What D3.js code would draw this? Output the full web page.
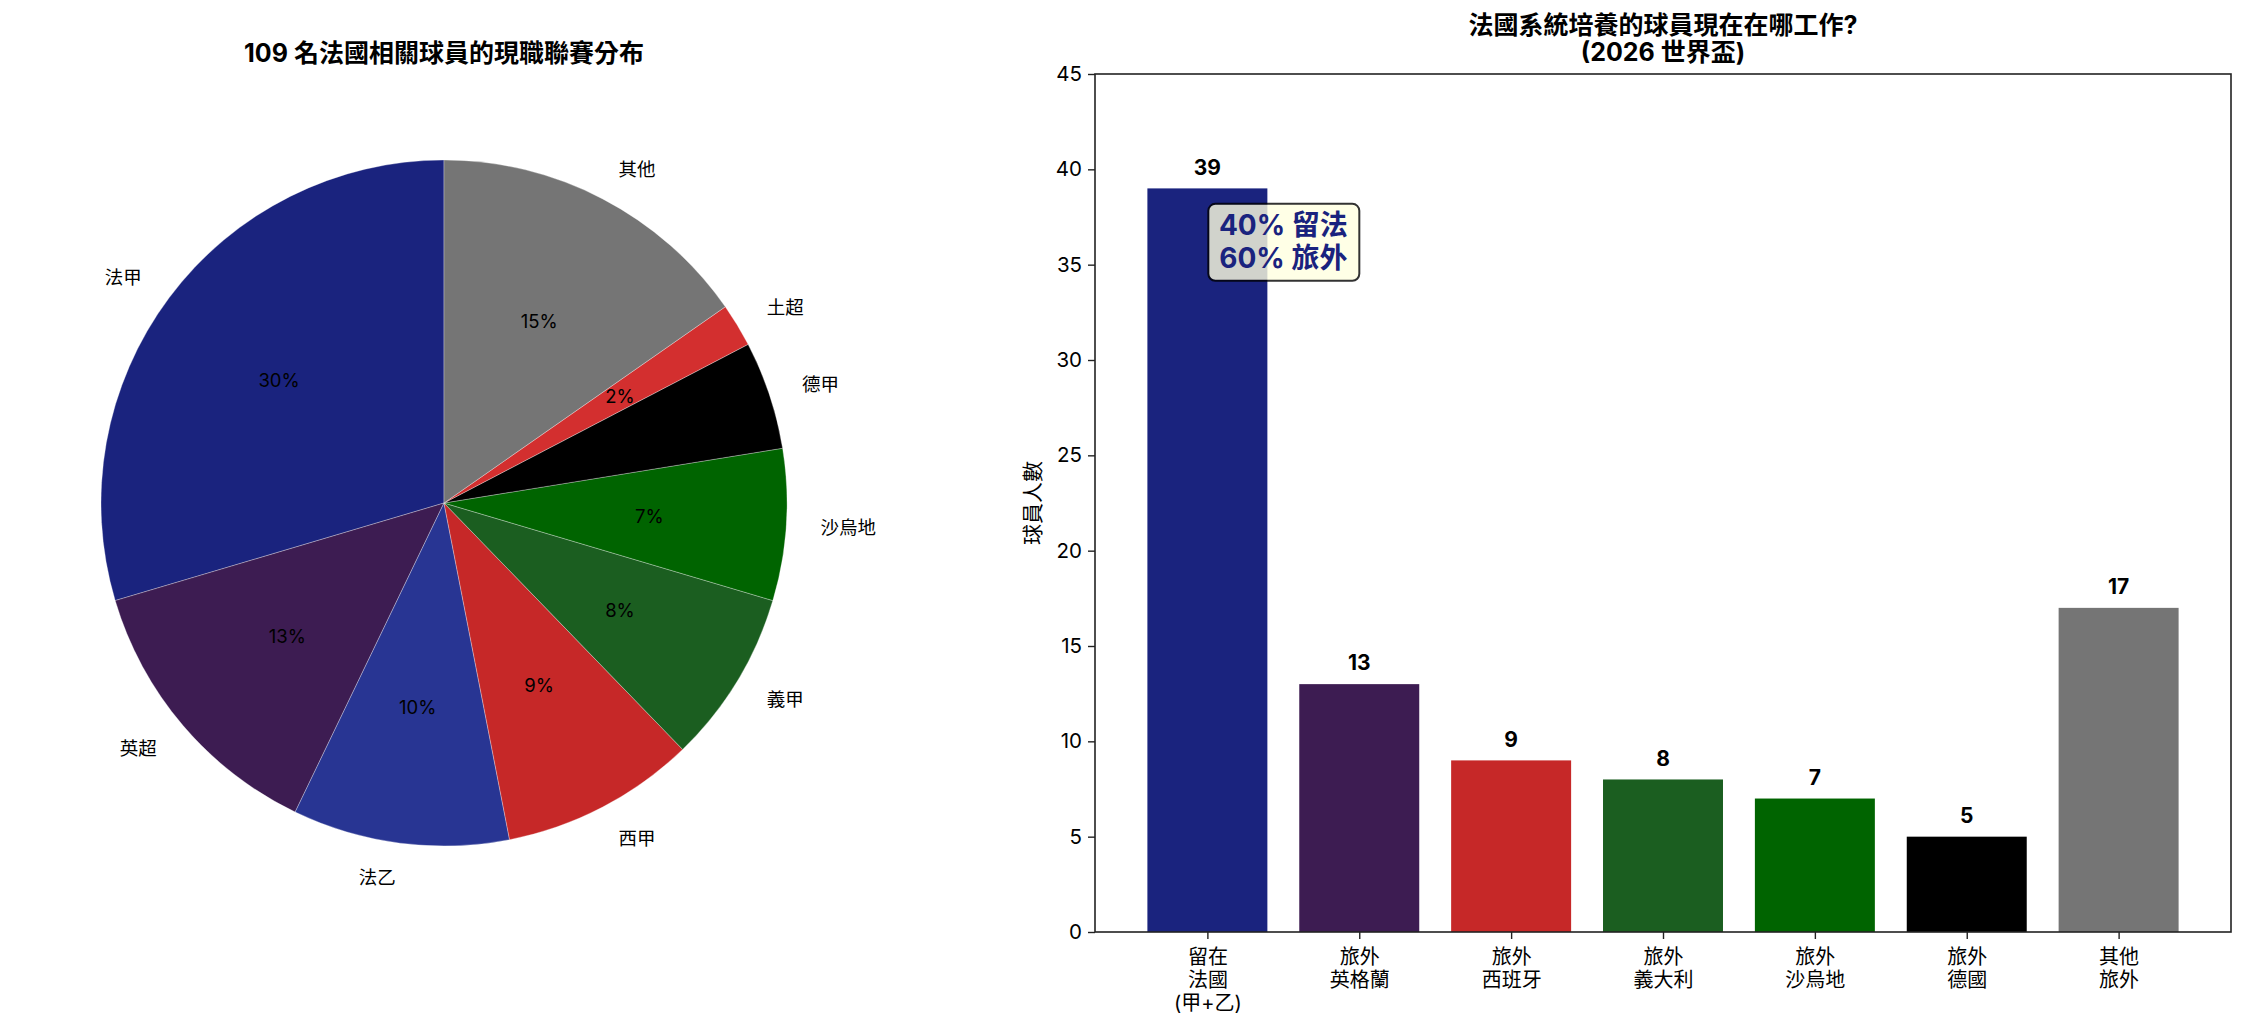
<!DOCTYPE html>
<html>
<head>
<meta charset="utf-8">
<script src="https://cdn.jsdelivr.net/npm/d3@7"></script>
<style>
  body { margin: 0; background: #fff; }
  svg text { font-family: Inter, "Noto Sans CJK TC", sans-serif; fill: #000; }
</style>
</head>
<body>
<svg id="chart" width="2246" height="1029"></svg>
<script>
// league split (pie)
const leagues = ['法甲', '英超', '法乙', '西甲', '義甲', '沙烏地', '德甲', '土超', '其他'];
const leagueCounts = [29, 13, 10, 9, 8, 7, 5, 2, 15];
const leagueColors = ['#1a237e', '#3d1c52', '#283593', '#c62828', '#1b5e20', '#006400', '#000000', '#d32f2f', '#757575'];

// grouped view (bars)
const groups = [['留在', '法國', '(甲+乙)'], ['旅外', '英格蘭'], ['旅外', '西班牙'], ['旅外', '義大利'], ['旅外', '沙烏地'], ['旅外', '德國'], ['其他', '旅外']];
const groupCounts = [39, 13, 9, 8, 7, 5, 17];
const groupColors = ['#1a237e', '#3d1c52', '#c62828', '#1b5e20', '#006400', '#000000', '#757575'];
const yTicks = [0, 5, 10, 15, 20, 25, 30, 35, 40, 45];

const pieTitle = '109 名法國相關球員的現職聯賽分布';
const barTitle = ['法國系統培養的球員現在在哪工作?', '(2026 世界盃)'];

const svg = d3.select('#chart');
const total = d3.sum(leagueCounts);

// ---- pie ----
const cx = 444, cy = 503, R = 343;
const pieG = svg.append('g').attr('transform', `translate(${cx},${cy})`);

// matplotlib style: start at 12 o'clock, go counter clockwise
const slices = d3.pie().sort(null).startAngle(0).endAngle(-2 * Math.PI)(leagueCounts);
const arc = d3.arc().innerRadius(0).outerRadius(R);

pieG.selectAll('path')
  .data(slices)
  .enter()
  .append('path')
  .attr('d', arc)
  .attr('fill', (d, i) => leagueColors[i])
  .attr('stroke', '#fff')
  .attr('stroke-opacity', 0.6)
  .attr('stroke-width', 0.5);

const mid = d => (d.startAngle + d.endAngle) / 2;

pieG.selectAll('.lbl')
  .data(slices)
  .enter()
  .append('text')
  .classed('lbl', true)
  .attr('x', d => Math.sin(mid(d)) * R * 1.1)
  .attr('y', d => -Math.cos(mid(d)) * R * 1.1)
  .attr('text-anchor', d => Math.sin(mid(d)) > 0 ? 'start' : 'end')
  .attr('dominant-baseline', 'central')
  .attr('font-size', 18.5)
  .text((d, i) => leagues[i]);

pieG.selectAll('.pct')
  .data(slices)
  .enter()
  .append('text')
  .classed('pct', true)
  .attr('x', d => Math.sin(mid(d)) * R * 0.6)
  .attr('y', d => -Math.cos(mid(d)) * R * 0.6)
  .attr('text-anchor', 'middle')
  .attr('dominant-baseline', 'central')
  .attr('font-size', 18.5)
  .text(d => Math.round(d.value / total * 100) + '%');

svg.append('text')
  .attr('x', cx)
  .attr('y', 53)
  .attr('text-anchor', 'middle')
  .attr('dominant-baseline', 'central')
  .attr('font-size', 25)
  .attr('font-weight', 'bold')
  .text(pieTitle);

// ---- bars ----
const axL = 1095, axR = 2231, axT = 74, axB = 932;
const x = d3.scaleLinear().domain([-0.74, 6.74]).range([axL, axR]);
const y = d3.scaleLinear().domain([0, 45]).range([axB, axT]);
const bw = x(0.79) - x(0);

svg.append('g')
  .selectAll('rect')
  .data(groupCounts)
  .enter()
  .append('rect')
  .attr('x', (d, i) => x(i) - bw / 2)
  .attr('y', d => y(d))
  .attr('width', bw)
  .attr('height', d => y(0) - y(d))
  .attr('fill', (d, i) => groupColors[i]);

svg.append('g')
  .selectAll('text')
  .data(groupCounts)
  .enter()
  .append('text')
  .attr('x', (d, i) => x(i))
  .attr('y', d => y(d + 0.72))
  .attr('text-anchor', 'middle')
  .attr('font-size', 21)
  .attr('font-weight', 'bold')
  .text(d => d);

// axes
const yAxis = svg.append('g')
  .attr('transform', `translate(${axL},0)`)
  .call(d3.axisLeft(y).tickValues(yTicks).tickSize(7).tickPadding(6));
yAxis.select('.domain').remove();
yAxis.selectAll('.tick text').attr('font-size', 20.5).attr('font-family', null);
yAxis.selectAll('.tick line').attr('stroke', '#222').attr('stroke-width', 1.4);

const xAxis = svg.append('g')
  .attr('transform', `translate(0,${axB})`)
  .call(d3.axisBottom(x).tickValues(d3.range(groups.length)).tickSize(7).tickPadding(6).tickFormat(() => ''));
xAxis.select('.domain').remove();
xAxis.selectAll('.tick line').attr('stroke', '#222').attr('stroke-width', 1.4);
xAxis.selectAll('.tick text')
  .attr('font-size', 20)
  .attr('font-family', null)
  .attr('dy', null)
  .each(function(d) {
    let t = d3.select(this);
    groups[d].forEach((line, i) => {
      t.append('tspan').attr('x', 0).attr('y', 32 + i * 23).text(line);
    });
  });

svg.append('rect')
  .attr('x', axL)
  .attr('y', axT)
  .attr('width', axR - axL)
  .attr('height', axB - axT)
  .attr('fill', 'none')
  .attr('stroke', '#222')
  .attr('stroke-width', 1.6);

svg.append('text')
  .attr('transform', `translate(1032,${(axT + axB) / 2}) rotate(-90)`)
  .attr('text-anchor', 'middle')
  .attr('dominant-baseline', 'central')
  .attr('font-size', 21)
  .text('球員人數');

const title = svg.append('text')
  .attr('text-anchor', 'middle')
  .attr('font-size', 25)
  .attr('font-weight', 'bold');
barTitle.forEach((line, i) => {
  title.append('tspan').attr('x', (axL + axR) / 2).attr('y', 34 + i * 27).text(line);
});

// stay vs abroad callout
const stayPct = Math.round(groupCounts[0] / total * 100);
const note = svg.append('g');
note.append('rect')
  .attr('x', x(0.5) - 75)
  .attr('y', y(36.2) - 38)
  .attr('width', 151)
  .attr('height', 77)
  .attr('rx', 7)
  .attr('fill', 'lightyellow')
  .attr('stroke', '#000')
  .attr('stroke-width', 2)
  .attr('opacity', 0.8);
const noteText = note.append('text')
  .attr('text-anchor', 'middle')
  .attr('font-size', 28)
  .attr('font-weight', 'bold')
  .style('fill', '#1a237e');
noteText.append('tspan').attr('x', x(0.5)).attr('y', y(36.2) - 17).attr('dominant-baseline', 'central').text(`${stayPct}% 留法`);
noteText.append('tspan').attr('x', x(0.5)).attr('y', y(36.2) + 16).attr('dominant-baseline', 'central').text(`${100 - stayPct}% 旅外`);
</script>
</body>
</html>
